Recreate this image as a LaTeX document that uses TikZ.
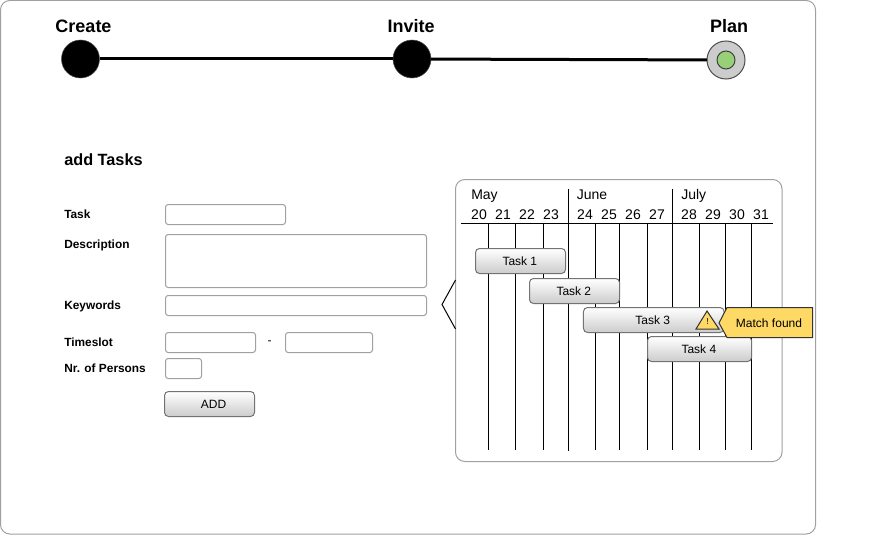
\documentclass[tikz,border=0pt]{standalone}
\usepackage{fontspec}
\setmainfont{Liberation Sans}
\usepackage{xcolor}
\usetikzlibrary{arrows.meta, positioning, shapes, calc}

\definecolor{framegray}{HTML}{A0A0A0}
\definecolor{warnyellow}{HTML}{FFD966}
\definecolor{plangreen}{HTML}{97D077}

\begin{document}
\begin{tikzpicture}[
  x=0.75pt, y=-0.75pt,
  panel/.style={draw=framegray, line width=0.75pt, rounded corners=7pt},
  stepdone/.style={circle, fill=black, draw=black!70, line width=0.4pt,
                   minimum size=28.5pt, inner sep=0pt, outer sep=0pt},
  stepnow/.style={circle, fill=black!20, draw=black!70, line width=0.75pt,
                  minimum size=28.5pt, inner sep=0pt, outer sep=0pt},
  stepdot/.style={circle, fill=plangreen, draw=black!75, line width=0.75pt,
                  minimum size=13.5pt, inner sep=0pt},
  steplbl/.style={font=\fontsize{13.5pt}{15pt}\selectfont\bfseries},
  steplink/.style={line width=2.25pt, black},
  heading/.style={anchor=west, inner sep=0pt, font=\fontsize{12.2pt}{14pt}\selectfont\bfseries},
  formlbl/.style={anchor=base west, inner sep=0pt, font=\fontsize{8.9pt}{11pt}\selectfont\bfseries},
  field/.style={rectangle, rounded corners=2pt, draw=framegray, line width=0.75pt,
                fill=white, minimum height=15pt, inner sep=0pt, outer sep=0pt},
  bar/.style={rectangle, rounded corners=3pt, draw=black!55, line width=0.75pt,
              top color=white, bottom color=black!20, minimum height=18.75pt,
              inner sep=0pt, outer sep=0pt, font=\fontsize{9pt}{11pt}\selectfont},
  datelbl/.style={inner sep=0pt, font=\fontsize{10.5pt}{12pt}\selectfont},
  grid/.style={black, line width=0.75pt},
  warn/.style={draw=black!80, fill=warnyellow, line width=0.75pt, line join=miter},
]
\useasboundingbox (0,0) rectangle (884,535);

%% Outer frame
\draw[panel] (0.5,0.5) rectangle (815.5,534);

%% Progress steps
\node[stepdone] (create) at (80.5,59) {};
\node[stepdone] (invite) at (412,59) {};
\node[stepnow] (plan) at (726,60) {};
\node[stepdot] (plandot) at (726,60) {};
\draw[steplink] (create) -- (invite);
\draw[steplink] (invite) -- (plan);
\node[steplbl] (createlbl) at (83.5,26) {Create};
\node[steplbl] (invitelbl) at (411,26) {Invite};
\node[steplbl] (planlbl) at (729,26) {Plan};

%% Form
\node[heading] (title) at (64,159.5) {add Tasks};
\node[formlbl] (tasklbl) at (64,218) {Task};
\node[formlbl] (desclbl) at (64,248) {Description};
\node[formlbl] (keylbl) at (64,309) {Keywords};
\node[formlbl] (slotlbl) at (64,346) {Timeslot};
\node[formlbl] (perslbl) at (64,372) {Nr. of Persons};

\node[field, minimum width=90pt] (taskbox) at (225.5,214.5) {};
\node[field, minimum width=195.75pt, minimum height=39.75pt] (descbox) at (296,261) {};
\node[field, minimum width=195.75pt] (keybox) at (296,305.5) {};
\node[field, minimum width=67.5pt] (slotfrom) at (210.5,342.5) {};
\node[inner sep=0pt, font=\fontsize{9pt}{11pt}\selectfont] (slotdash) at (269.5,343) {-};
\node[field, minimum width=65.25pt] (slotto) at (329,342.5) {};
\node[field, minimum width=27pt] (persbox) at (183.5,368.5) {};
\node[bar, minimum width=67.5pt] (addbtn) at (209.5,404) {\phantom{A}ADD};

%% Chart panel
\draw[panel, fill=white] (455.5,179.5) rectangle (782,461.5);
\draw[black, line width=0.75pt] (455.5,280) -- (442,304.5) -- (455.5,329);

%% Months and days
\node[datelbl, anchor=base west] (may) at (471,199) {May};
\node[datelbl, anchor=base west] (june) at (576.5,199) {June};
\node[datelbl, anchor=base west] (july) at (681,199) {July};
\node[datelbl] (d20) at (479,214.5) {20};
\node[datelbl] (d21) at (503,214.5) {21};
\node[datelbl] (d22) at (527,214.5) {22};
\node[datelbl] (d23) at (551,214.5) {23};
\node[datelbl] (d24) at (585,214.5) {24};
\node[datelbl] (d25) at (609,214.5) {25};
\node[datelbl] (d26) at (633,214.5) {26};
\node[datelbl] (d27) at (657,214.5) {27};
\node[datelbl] (d28) at (689,214.5) {28};
\node[datelbl] (d29) at (713,214.5) {29};
\node[datelbl] (d30) at (737,214.5) {30};
\node[datelbl] (d31) at (761,214.5) {31};

%% Grid
\draw[grid] (461,223.5) -- (773,223.5);
\draw[grid] (488.5,223.5) -- (488.5,449.5);
\draw[grid] (515.5,223.5) -- (515.5,449.5);
\draw[grid] (543.5,223.5) -- (543.5,449.5);
\draw[grid] (568.5,188.5) -- (568.5,451);
\draw[grid] (595.5,223.5) -- (595.5,449.5);
\draw[grid] (619.5,223.5) -- (619.5,449.5);
\draw[grid] (647.5,223.5) -- (647.5,449.5);
\draw[grid] (672.5,188.5) -- (672.5,449.5);
\draw[grid] (699.5,223.5) -- (699.5,449.5);
\draw[grid] (725.5,223.5) -- (725.5,449.5);
\draw[grid] (751.5,223.5) -- (751.5,449.5);

%% Tasks
\node[bar, minimum width=67.5pt] (task1) at (520.5,261) {Task 1\kern1pt};
\node[bar, minimum width=67.5pt] (task2) at (574.5,291) {Task 2\kern1pt};
\node[bar, minimum width=105.4pt] (task3) at (653.75,320) {Task 3\kern1.5pt};
\node[bar, minimum width=78pt] (task4) at (699.5,349) {Task 4\kern1pt};

%% Warning
\draw[warn] (719,323) -- (727,307.5) -- (812.5,307.5) -- (812.5,337.5) -- (727,337.5) -- cycle;
\node[inner sep=0pt, font=\fontsize{9pt}{11pt}\selectfont] (match) at (769,323) {Match found};
\draw[warn] (707,311) -- (719,329) -- (696,329) -- cycle;
\node[inner sep=0pt, font=\fontsize{6.5pt}{7pt}\selectfont] (warnmark) at (707.5,322) {!};

\end{tikzpicture}
\end{document}
